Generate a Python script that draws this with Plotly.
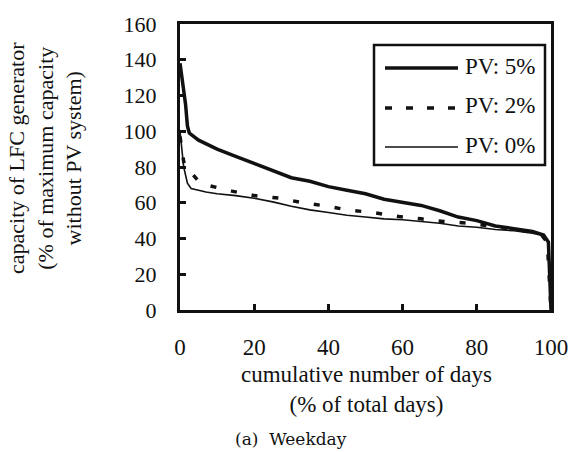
import plotly.graph_objects as go

# cumulative number of days (% of total days)
x_pv5 = [0, 0.5, 1, 1.5, 2, 2.5, 5, 10, 15, 20, 25, 30, 35, 40, 45, 50, 55, 60, 65, 70, 75, 80, 85, 90, 95, 98, 99.3, 100]
y_pv5 = [138, 130, 124, 115, 103, 99, 95, 90, 86, 82, 78, 74, 72, 69, 67, 65, 62, 60, 58.5, 55.5, 52, 50, 47, 45.5, 44, 42, 38, 0]

x_pv2 = [0, 0.5, 1, 2, 3, 5, 8, 14, 20, 27, 33, 40, 45, 52, 59, 65, 71, 78, 85, 90, 97, 99, 100]
y_pv2 = [97, 88, 83, 79, 77, 72, 69.5, 66.5, 64, 62.5, 60, 58, 56, 54.5, 52.3, 51, 49.5, 48.6, 46.5, 44.8, 43, 38, 0]

x_pv0 = [0, 0.5, 1, 2, 3, 5, 7, 10, 15, 20, 25, 30, 35, 40, 45, 50, 55, 60, 65, 70, 75, 80, 85, 90, 95, 98, 99.3, 100]
y_pv0 = [100, 90, 80, 71, 68, 67, 66, 65, 64, 62.5, 60.5, 58, 56, 54.5, 53, 52, 51, 50.5, 49.5, 48.5, 47, 46.3, 45, 44.3, 43, 41.5, 38, 0]

series_names = ["PV: 5%", "PV: 2%", "PV: 0%"]
x_ticks = [0, 20, 40, 60, 80, 100]
y_ticks = [0, 20, 40, 60, 80, 100, 120, 140, 160]

FONT = "Times New Roman, Liberation Serif, Times, serif"
INK = "#111111"

fig = go.Figure()
fig.add_trace(go.Scatter(x=x_pv5, y=y_pv5, mode="lines", name=series_names[0],
                         line=dict(color=INK, width=3.5), showlegend=False))
fig.add_trace(go.Scatter(x=x_pv2, y=y_pv2, mode="lines", name=series_names[1],
                         line=dict(color=INK, width=3.5, dash="6px,15px"), showlegend=False))
fig.add_trace(go.Scatter(x=x_pv0, y=y_pv0, mode="lines", name=series_names[2],
                         line=dict(color=INK, width=1.6), showlegend=False))

L, R, T, B = 180, 33, 24, 142
W, H = 584, 452
pw, ph = W - L - R, H - T - B

def px(xp):
    return (xp - L) / pw

def py(yp):
    return (H - B - yp) / ph

shapes = []
# legend box
shapes.append(dict(type="rect", xref="paper", yref="paper",
                   x0=px(374), x1=px(545), y0=py(165), y1=py(45),
                   line=dict(color=INK, width=2.5), fillcolor="white", layer="above"))
legend_rows = [68, 108, 147]
legend_styles = [dict(width=3.5), dict(width=3.5, dash="7px,14px"), dict(width=1.6)]
annotations = []
for name, yy, st in zip(series_names, legend_rows, legend_styles):
    shapes.append(dict(type="line", xref="paper", yref="paper",
                       x0=px(385), x1=px(458), y0=py(yy), y1=py(yy),
                       line=dict(color=INK, **st), layer="above"))
    annotations.append(dict(text=name, xref="paper", yref="paper",
                            x=px(463), y=py(yy - 2), xanchor="left", yanchor="middle",
                            showarrow=False, font=dict(family=FONT, size=23, color=INK)))

# y axis title (three lines)
annotations.append(dict(text="capacity of LFC generator<br>(% of maximum capacity<br>without PV system)",
                        xref="paper", yref="paper", x=px(45), y=py(158),
                        xanchor="center", yanchor="middle", textangle=-90,
                        showarrow=False, font=dict(family=FONT, size=22, color=INK)))
# x axis title
annotations.append(dict(text="cumulative number of days<br>(% of total days)",
                        xref="paper", yref="paper", x=px(366), y=py(389),
                        xanchor="center", yanchor="middle",
                        showarrow=False, font=dict(family=FONT, size=23, color=INK)))
# caption
annotations.append(dict(text="(a)  Weekday",
                        xref="paper", yref="paper", x=px(291), y=py(439),
                        xanchor="center", yanchor="middle",
                        showarrow=False, font=dict(family="DejaVu Serif", size=17, color=INK)))

fig.update_layout(
    width=W, height=H,
    margin=dict(l=L, r=R, t=T, b=B),
    paper_bgcolor="white", plot_bgcolor="white",
    font=dict(family=FONT, size=21, color=INK),
    shapes=shapes, annotations=annotations,
    xaxis=dict(range=[0, 100], tickvals=x_ticks, ticks="inside", ticklen=6, tickwidth=2.5,
               tickcolor=INK, showline=True, linecolor=INK, linewidth=3, mirror=True,
               showgrid=False, zeroline=False, ticklabelstandoff=14,
               tickfont=dict(family=FONT, size=23, color=INK)),
    yaxis=dict(range=[0, 160], tickvals=y_ticks, ticks="inside", ticklen=6, tickwidth=2.5,
               tickcolor=INK, showline=True, linecolor=INK, linewidth=3, mirror=True,
               showgrid=False, zeroline=False, ticklabelstandoff=16,
               tickfont=dict(family=FONT, size=22, color=INK)),
)

fig.write_html("out.html")
